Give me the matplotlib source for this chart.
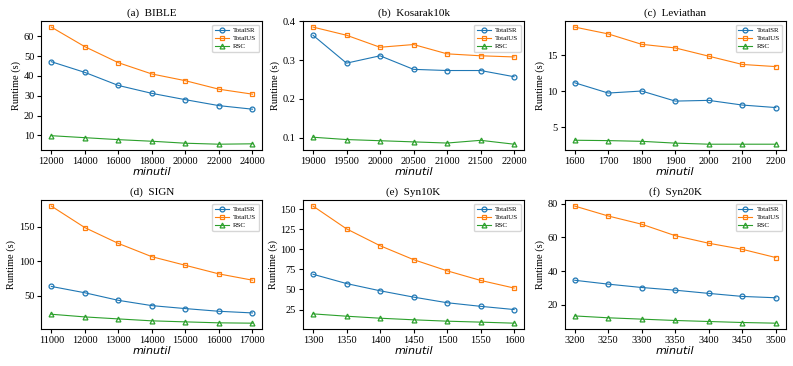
import matplotlib
matplotlib.use('Agg')
import matplotlib.pyplot as plt
from matplotlib.ticker import MultipleLocator

# Данные для шести наборов
titles = ['(a)  BIBLE', '(b)  Kosarak10k', '(c)  Leviathan', '(d)  SIGN', '(e)  Syn10K', '(f)  Syn20K']

x_bible = [12000, 14000, 16000, 18000, 20000, 22000, 24000]
sr_bible = [47.2, 41.8, 35.2, 31.2, 28.0, 25.0, 23.2]
us_bible = [64.7, 54.8, 46.7, 41.0, 37.6, 33.3, 30.8]
rsc_bible = [9.8, 8.8, 7.8, 7.0, 6.0, 5.5, 5.7]

x_kosarak = [19000, 19500, 20000, 20500, 21000, 21500, 22000]
sr_kosarak = [0.364, 0.292, 0.311, 0.276, 0.273, 0.273, 0.257]
us_kosarak = [0.385, 0.364, 0.333, 0.340, 0.316, 0.311, 0.308]
rsc_kosarak = [0.101, 0.095, 0.092, 0.089, 0.086, 0.093, 0.083]

x_leviathan = [1600, 1700, 1800, 1900, 2000, 2100, 2200]
sr_leviathan = [11.2, 9.77, 10.05, 8.65, 8.75, 8.1, 7.75]
us_leviathan = [18.95, 18.0, 16.55, 16.05, 14.9, 13.75, 13.45]
rsc_leviathan = [3.2, 3.15, 3.05, 2.8, 2.65, 2.65, 2.65]

x_sign = [11000, 12000, 13000, 14000, 15000, 16000, 17000]
sr_sign = [63.5, 54.3, 43.3, 35.6, 31.3, 27.4, 25.0]
us_sign = [180.3, 149.0, 126.0, 106.7, 94.2, 81.7, 72.6]
rsc_sign = [23.1, 19.2, 16.3, 13.5, 12.0, 10.6, 10.1]

x_syn10k = [1300, 1350, 1400, 1450, 1500, 1550, 1600]
sr_syn10k = [69.0, 57.4, 48.4, 40.5, 33.5, 29.0, 25.0]
us_syn10k = [154.0, 125.6, 104.6, 87.2, 73.3, 61.3, 51.8]
rsc_syn10k = [19.6, 16.7, 14.2, 12.2, 10.5, 9.3, 8.0]

x_syn20k = [3200, 3250, 3300, 3350, 3400, 3450, 3500]
sr_syn20k = [34.5, 32.2, 30.2, 28.6, 26.7, 24.9, 24.1]
us_syn20k = [78.6, 72.7, 67.8, 61.0, 56.5, 52.9, 48.0]
rsc_syn20k = [13.3, 12.2, 11.4, 10.6, 10.0, 9.4, 9.0]

datasets = [
    (x_bible, sr_bible, us_bible, rsc_bible),
    (x_kosarak, sr_kosarak, us_kosarak, rsc_kosarak),
    (x_leviathan, sr_leviathan, us_leviathan, rsc_leviathan),
    (x_sign, sr_sign, us_sign, rsc_sign),
    (x_syn10k, sr_syn10k, us_syn10k, rsc_syn10k),
    (x_syn20k, sr_syn20k, us_syn20k, rsc_syn20k),
]
ystep = [10, 0.1, 5, 50, 25, 20]

serif = 'Liberation Serif'

fig = plt.figure(figsize=(7.93, 3.66), dpi=100)

lefts = [0.052, 0.382, 0.712]
bottoms = [0.59, 0.101]
w, h = 0.279, 0.352

for i, (x, sr, us, rsc) in enumerate(datasets):
    ax = fig.add_axes([lefts[i % 3], bottoms[i // 3], w, h])
    ax.plot(x, sr, marker='o', color='tab:blue', lw=0.8, ms=3.5, mfc='none', mew=0.9, label='TotalSR')
    ax.plot(x, us, marker='s', color='tab:orange', lw=0.8, ms=3.5, mfc='none', mew=0.9, label='TotalUS')
    ax.plot(x, rsc, marker='^', color='tab:green', lw=0.8, ms=3.5, mfc='none', mew=0.9, label='RSC')
    ax.set_xticks(x)
    ax.yaxis.set_major_locator(MultipleLocator(ystep[i]))
    ax.set_title(titles[i], fontfamily=serif, fontsize=8, pad=4)
    ax.set_ylabel('Runtime (s)', fontfamily=serif, fontsize=7.5, labelpad=2)
    ax.set_xlabel('minutil', fontstyle='italic', fontsize=8, labelpad=1)
    for lab in ax.get_xticklabels() + ax.get_yticklabels():
        lab.set_fontfamily(serif)
        lab.set_fontsize(7.5)
    ax.tick_params(length=3, width=0.8, pad=2)
    ax.legend(loc='upper right', prop={'family': serif, 'size': 5},
              handlelength=2.0, borderpad=0.4, labelspacing=0.3, handletextpad=0.6)

fig.savefig('out.png', dpi=100)
